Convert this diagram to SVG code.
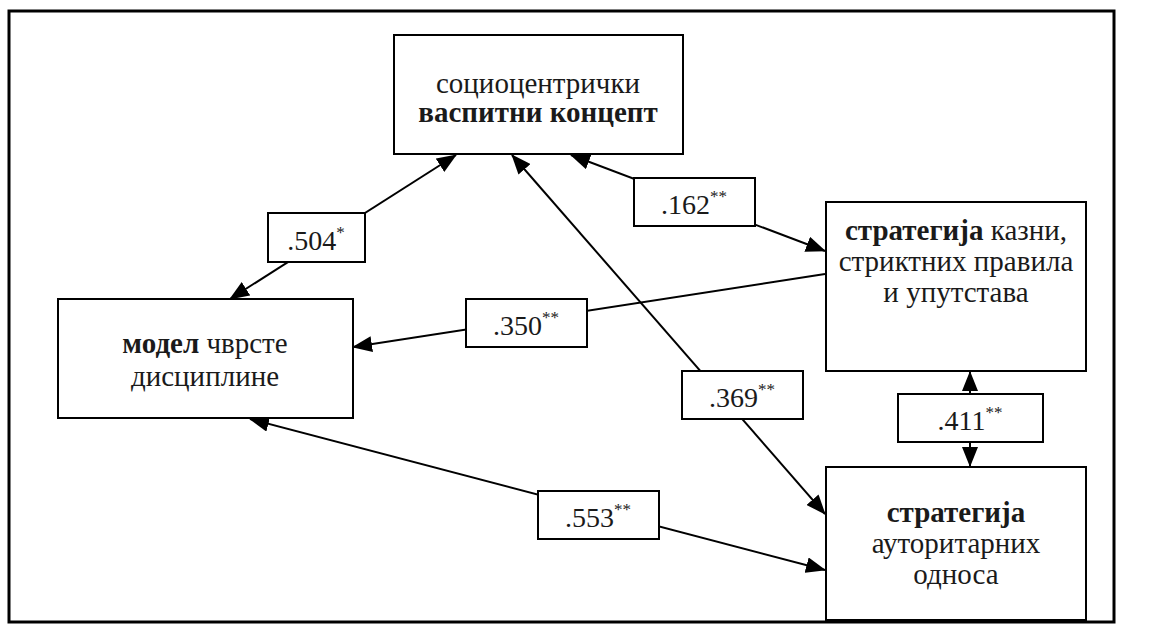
<svg xmlns="http://www.w3.org/2000/svg" width="1156" height="632" viewBox="0 0 1156 632">
<defs>
<marker id="ah" markerUnits="userSpaceOnUse" markerWidth="20" markerHeight="16" refX="19" refY="8" orient="auto-start-reverse" viewBox="0 0 20 16">
<path d="M0,0 L20,8 L0,16 z" fill="#000"/>
</marker>
<style>
.box{fill:#fff;stroke:#000;stroke-width:2}
.lbl{fill:#fff;stroke:#000;stroke-width:2}
.t{font-family:"Liberation Serif","Times New Roman",serif;font-size:29px;fill:#1a1a1a;text-anchor:middle}
.n{font-size:28px}
.b{font-weight:bold}
.sup{font-size:17px}
.c{stroke:#000;stroke-width:2;fill:none}
.one{marker-end:url(#ah)}
.two{marker-start:url(#ah);marker-end:url(#ah)}
</style>
</defs>
<rect x="0" y="0" width="1156" height="632" fill="#fff"/>
<rect x="9" y="11" width="1105" height="611" fill="none" stroke="#000" stroke-width="3"/>
<g id="connectors">
<line class="c two" x1="456" y1="155" x2="230" y2="299"/>
<line class="c two" x1="571" y1="155" x2="825" y2="251"/>
<line class="c one" x1="825" y1="274" x2="353" y2="347"/>
<line class="c two" x1="512" y1="155" x2="825" y2="514"/>
<line class="c two" x1="250" y1="419" x2="825" y2="570"/>
<line class="c two" x1="970" y1="372" x2="970" y2="466"/>
</g>
<g id="node-socio">
<rect class="box" x="394" y="35" width="289" height="119"/>
<text class="t" x="538" y="93">социоцентрички</text>
<text class="t b" x="538" y="122">васпитни концепт</text>
</g>
<g id="node-model">
<rect class="box" x="58" y="299" width="295" height="119"/>
<text class="t" x="205" y="353"><tspan class="b">модел</tspan> чврсте</text>
<text class="t" x="205" y="386">дисциплине</text>
</g>
<g id="node-kazni">
<rect class="box" x="826" y="202" width="260" height="169"/>
<text class="t" x="956" y="240"><tspan class="b">стратегија</tspan> казни,</text>
<text class="t" x="956" y="271">стриктних правила</text>
<text class="t" x="956" y="302">и упутстава</text>
</g>
<g id="node-autoritarni">
<rect class="box" x="826" y="467" width="260" height="153"/>
<text class="t b" x="956" y="522">стратегија</text>
<text class="t" x="956" y="553">ауторитарних</text>
<text class="t" x="956" y="584">односа</text>
</g>
<g id="label-504">
<rect class="lbl" x="268" y="213" width="97" height="49"/>
<text class="t n" x="316" y="250">.504<tspan class="sup" dy="-12">*</tspan></text>
</g>
<g id="label-162">
<rect class="lbl" x="634" y="178" width="121" height="48"/>
<text class="t n" x="694" y="214">.162<tspan class="sup" dy="-12">**</tspan></text>
</g>
<g id="label-350">
<rect class="lbl" x="466" y="299" width="121" height="48"/>
<text class="t n" x="526" y="335">.350<tspan class="sup" dy="-12">**</tspan></text>
</g>
<g id="label-369">
<rect class="lbl" x="682" y="371" width="121" height="48"/>
<text class="t n" x="742" y="407">.369<tspan class="sup" dy="-12">**</tspan></text>
</g>
<g id="label-411">
<rect class="lbl" x="898" y="394" width="145" height="48"/>
<text class="t n" x="970" y="430">.411<tspan class="sup" dy="-12">**</tspan></text>
</g>
<g id="label-553">
<rect class="lbl" x="538" y="491" width="121" height="48"/>
<text class="t n" x="598" y="527">.553<tspan class="sup" dy="-12">**</tspan></text>
</g>
</svg>
